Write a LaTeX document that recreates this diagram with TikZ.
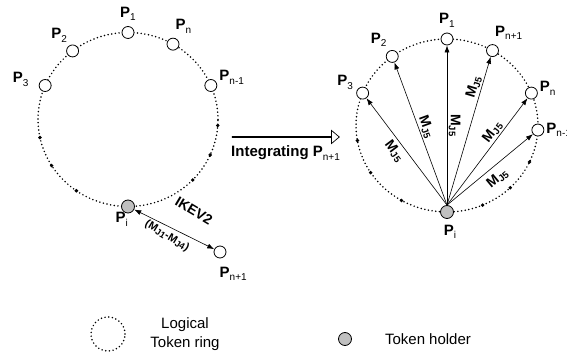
\documentclass[tikz,border=0pt]{standalone}
\usepackage{fontspec}
\setmainfont{Liberation Sans}
\usepackage{tikz}
\usetikzlibrary{arrows.meta,calc,positioning,shapes.arrows}
\definecolor{holdergray}{RGB}{192,192,192}
\newcommand{\pname}[1]{\textbf{P}\raisebox{-3.5pt}{\fontsize{10}{10}\selectfont\mdseries #1}}
\newcommand{\mjfive}{\textbf{M}\raisebox{-2pt}{\fontsize{9.5}{9.5}\selectfont\bfseries J5}}
\newcommand{\mjsub}[1]{M\raisebox{-1.5pt}{\fontsize{9}{9}\selectfont J#1}}

\begin{document}
\begin{tikzpicture}[x=1pt,y=1pt]
    \tikzset{member/.style={circle,draw,fill=white,line width=0.8pt,%
    inner sep=0pt,minimum size=12pt}} %
    \tikzset{holder/.style={member,fill=holdergray,minimum size=13pt}} %
    \tikzset{ring/.style={line width=1.7pt,dash pattern=on 0pt off 3.7pt,%
    line cap=round}} %
    \tikzset{gapdot/.style={circle,fill=black,inner sep=0pt,minimum size=3.8pt}} %
    \tikzset{plabel/.style={font=\fontsize{15}{16}\selectfont\bfseries,inner sep=1pt}} %
    \tikzset{msg/.style={-{Latex[length=7pt,width=5pt]},line width=0.6pt}} %
    \tikzset{mlabel/.style={font=\fontsize{14}{15}\selectfont\bfseries,%
    inner sep=1.5pt}} %
    \useasboundingbox (0,0) rectangle (567,358);

    % ring before integration
    \coordinate (ringL) at (128,238.5);
    \draw[ring] (ringL) ellipse [x radius=90, y radius=87];
    \foreach \a in {192,212,235,-4,-24,-44}
      \node[gapdot] (dotL\a) at ($(ringL)+(\a:90 and 87)$) {};

    \node[member] (L1) at ($(ringL)+(90:90 and 87)$) {};
    \node[member] (L2) at ($(ringL)+(128:90 and 87)$) {};
    \node[member] (L3) at ($(ringL)+(157:90 and 87)$) {};
    \node[member] (Ln) at ($(ringL)+(60:90 and 87)$) {};
    \node[member] (Lnm) at ($(ringL)+(23:90 and 87)$) {};
    \node[holder] (Li) at ($(ringL)+(270:90 and 87)$) {};
    \node[member] (Lext) at (220,106) {};

    \node[plabel] (L1lab) [above=4pt of L1] {\pname{1}};
    \node[plabel] (L2lab) [above left=3pt and 0pt of L2] {\pname{2}};
    \node[plabel] (L3lab) [left=9pt of L3,yshift=6pt] {\pname{3}};
    \node[plabel] (Lnlab) [above right=5pt and -3pt of Ln] {\pname{n}};
    \node[plabel] (Lnmlab) [right=1pt of Lnm,yshift=8pt] {\pname{n-1}};
    \node[plabel] (Lilab) [below left=0pt and -6pt of Li] {\pname{i}};
    \node[plabel] (Lextlab) [below right=9pt and -6pt of Lext] {\pname{n+1}};

    \draw[{Latex[length=7pt,width=5pt]}-{Latex[length=7pt,width=5pt]},line width=0.6pt]
      (Li) -- (Lext);
    \node[font=\fontsize{14}{15}\selectfont\bfseries,rotate=-31] (ikev) at (194,147) {IKEV2};
    \node[font=\fontsize{11}{12}\selectfont\bfseries,rotate=-31] (mjrange) at (167,122)
      {(\mjsub{1}-\mjsub{4})};

    % integration step
    \node[single arrow,draw,line width=0.7pt,inner sep=0pt,minimum height=107pt,%
      minimum width=13pt,single arrow head extend=4pt,single arrow tip angle=80]
      (integ) at (285.5,221) {};
    \node[plabel] (integlab) [below=7pt of integ] {Integrating \pname{n+1}};

    % ring after integration
    \coordinate (ringR) at (447,232.5);
    \draw[ring] (ringR) ellipse [x radius=91, y radius=86.5];
    \foreach \a in {190,213,240,-25,-46,-67}
      \node[gapdot] (dotR\a) at ($(ringR)+(\a:91 and 86.5)$) {};

    \node[member] (R1) at ($(ringR)+(90:91 and 86.5)$) {};
    \node[member] (R2) at ($(ringR)+(127:91 and 86.5)$) {};
    \node[member] (R3) at ($(ringR)+(158:91 and 86.5)$) {};
    \node[member] (Rext) at ($(ringR)+(60:91 and 86.5)$) {};
    \node[member] (Rn) at ($(ringR)+(22:91 and 86.5)$) {};
    \node[member] (Rnm) at ($(ringR)+(-3:91 and 86.5)$) {};
    \node[holder] (Ri) at ($(ringR)+(270:91 and 86.5)$) {};

    \node[plabel] (R1lab) [above=4pt of R1] {\pname{1}};
    \node[plabel] (R2lab) [above left=4pt and 0pt of R2] {\pname{2}};
    \node[plabel] (R3lab) [above left=-2pt and 4pt of R3] {\pname{3}};
    \node[plabel] (Rextlab) [above right=5pt and -3pt of Rext] {\pname{n+1}};
    \node[plabel] (Rnlab) [right=1pt of Rn,yshift=5pt] {\pname{n}};
    \node[plabel] (Rnmlab) [right=1pt of Rnm] {\pname{n-1}};
    \node[plabel] (Rilab) [below=5pt of Ri,xshift=3pt] {\pname{i}};

    \draw[msg] (Ri.north) -- node[mlabel,sloped,below=2pt,pos=0.56] {\mjfive} (R3);
    \draw[msg] (Ri.north) -- node[mlabel,sloped,above,pos=0.53] {\mjfive} (R2);
    \draw[msg] (Ri.north) -- node[mlabel,rotate=-90,anchor=south,pos=0.5] {\mjfive} (R1);
    \draw[msg] (Ri.north) -- node[mlabel,sloped,above,pos=0.78] {\mjfive} (Rext);
    \draw[msg] (Ri.north) -- node[mlabel,sloped,above,pos=0.64] {\mjfive} (Rn);
    \draw[msg] (Ri.north) -- node[mlabel,sloped,below=4pt,pos=0.5] {\mjfive} (Rnm);

    % legend
    \node[circle,draw=none,minimum size=34pt] (ringkey) at (108,24) {};
    \draw[ring] (ringkey.center) circle [radius=17];
    \node[align=center,font=\fontsize{15}{19}\selectfont] (ringtext) at (185,24)
      {Logical\\Token ring};
    \node[holder] (holderkey) at (345,19) {};
    \node[font=\fontsize{15}{16}\selectfont] (holdertext) at (428,19) {Token holder};
\end{tikzpicture}
\end{document}
